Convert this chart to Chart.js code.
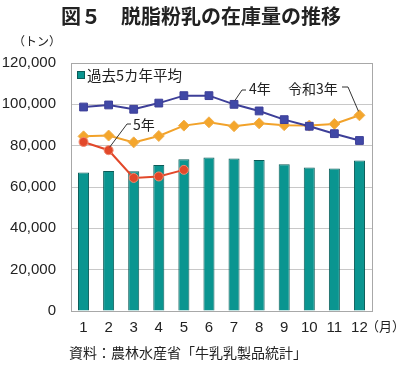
<!DOCTYPE html>
<html><head><meta charset="utf-8">
<script src="https://cdn.jsdelivr.net/npm/chart.js@4/dist/chart.umd.min.js"></script>
<style>html,body{margin:0;padding:0;background:#fff}#wrap{width:400px;height:367px;position:relative}</style>
</head><body><div id="wrap"><canvas id="c" width="400" height="367"></canvas></div>
<script>
const months = ['1','2','3','4','5','6','7','8','9','10','11','12'];
const avg5yr = [67000,67800,67600,70700,73400,74300,73800,73100,71000,69400,68900,72800];
const r4 = [98700,99700,97600,100600,104200,104200,100000,96800,92600,89400,85800,82500];
const r3 = [84500,84900,81600,84700,89700,91300,89400,90800,89900,89700,90500,94700];
const r5 = [81800,77800,64400,65100,68300];
const yTicks = [0,20000,40000,60000,80000,100000,120000];

const FONT = '"Liberation Sans","Noto Sans CJK JP",Arial,sans-serif';
const JFONT = '"Noto Sans CJK JP","Liberation Sans",sans-serif';

const deco = {
  id:'deco',
  afterDraw(chart){
    const ctx = chart.ctx, x = chart.scales.x, y = chart.scales.y;
    ctx.save();
    ctx.fillStyle = '#222';
    ctx.textBaseline = 'middle';
    // title
    ctx.font = 'bold 20px ' + JFONT;
    ctx.textAlign = 'center';
    ctx.fillText('図５　脱脂粉乳の在庫量の推移', 201, 16);
    // unit
    ctx.font = '12px ' + JFONT;
    ctx.textAlign = 'left';
    ctx.fillText('（トン）', 13, 41);
    // month unit
    ctx.font = '13px ' + JFONT;
    ctx.fillText('（月）', 366, 326);
    // source
    ctx.font = '14px ' + JFONT;
    ctx.fillText('資料：農林水産省「牛乳乳製品統計」', 69, 353);
    // legend
    ctx.fillStyle = '#0a9590';
    ctx.strokeStyle = '#0b5c58';
    ctx.lineWidth = 1;
    ctx.fillRect(77.5, 71.5, 7, 7);
    ctx.strokeRect(77.5, 71.5, 7, 7);
    ctx.fillStyle = '#222';
    ctx.font = '14.5px ' + JFONT;
    ctx.fillText('過去5カ年平均', 87, 75);
    // annotations
    ctx.font = '14px ' + JFONT;
    ctx.fillText('4年', 249, 89);
    ctx.fillText('令和3年', 288, 89);
    ctx.fillText('5年', 133, 125);
    ctx.strokeStyle = '#333';
    ctx.lineWidth = 1;
    ctx.beginPath();
    // 4年 leader
    ctx.moveTo(246, 90); ctx.lineTo(242, 90);
    ctx.lineTo(x.getPixelForValue(6) + 1, y.getPixelForValue(r4[6]) - 4);
    // 令和3年 leader
    ctx.moveTo(342, 87); ctx.lineTo(348, 87);
    ctx.lineTo(x.getPixelForValue(11) - 1, y.getPixelForValue(r3[11]) - 4);
    // 5年 leader
    ctx.moveTo(131, 124); ctx.lineTo(127, 124);
    ctx.lineTo(x.getPixelForValue(1) + 1, y.getPixelForValue(r5[1]) - 3);
    ctx.stroke();
    ctx.restore();
  }
};

new Chart(document.getElementById('c'), {
  data: {
    labels: months,
    datasets: [
      {type:'line', label:'5年', data:r5, borderColor:'#e2482a', backgroundColor:'#e2482a',
        pointStyle:'circle', pointRadius:4.5, pointBorderColor:'#f08a70', pointBorderWidth:1,
        borderWidth:2, order:1},
      {type:'line', label:'4年', data:r4, borderColor:'#3d3f98', backgroundColor:'#4048a6',
        pointStyle:'rect', pointRadius:5.5, pointBorderColor:'#3d3f98', pointBorderWidth:1,
        borderWidth:2, order:2},
      {type:'line', label:'令和3年', data:r3, borderColor:'#f2a22a', backgroundColor:'#f4a62c',
        pointStyle:'rectRot', pointRadius:5.5, pointBorderColor:'#f0b050', pointBorderWidth:1,
        borderWidth:2, order:3},
      {type:'bar', label:'過去5カ年平均', data:avg5yr, backgroundColor:'#0a9590',
        borderColor:'#0b5c58', borderWidth:1, barPercentage:0.44, categoryPercentage:1, order:10}
    ]
  },
  options: {
    responsive:false, animation:false,
    layout:{padding:{top:63, right:28, left:0, bottom:0}},
    plugins:{legend:{display:false}, tooltip:{enabled:false}, title:{display:false}},
    scales:{
      x:{
        grid:{display:false, drawTicks:false},
        border:{display:true, color:'#a8a8a8'},
        ticks:{font:{family:FONT, size:15}, color:'#222', padding:8, maxRotation:0, autoSkip:false},
        afterFit(s){ s.height = 56; }
      },
      y:{
        min:0, max:120000,
        afterBuildTicks(s){ s.ticks = yTicks.map(v=>({value:v})); },
        grid:{color:'#c8c8c8', drawTicks:false},
        border:{display:true, color:'#a8a8a8'},
        ticks:{font:{family:FONT, size:15}, color:'#222', padding:15,
          callback:v=>v.toLocaleString('en-US')},
        afterFit(s){ s.width = 71; }
      }
    }
  },
  plugins:[deco, {
    id:'frame',
    afterDraw(chart){
      const a = chart.chartArea, ctx = chart.ctx;
      ctx.save(); ctx.strokeStyle = '#a8a8a8'; ctx.lineWidth = 1;
      ctx.strokeRect(Math.round(a.left)+0.5, Math.round(a.top)+0.5, Math.round(a.right-a.left), Math.round(a.bottom-a.top));
      ctx.restore();
    }
  }]
});
</script></body></html>
